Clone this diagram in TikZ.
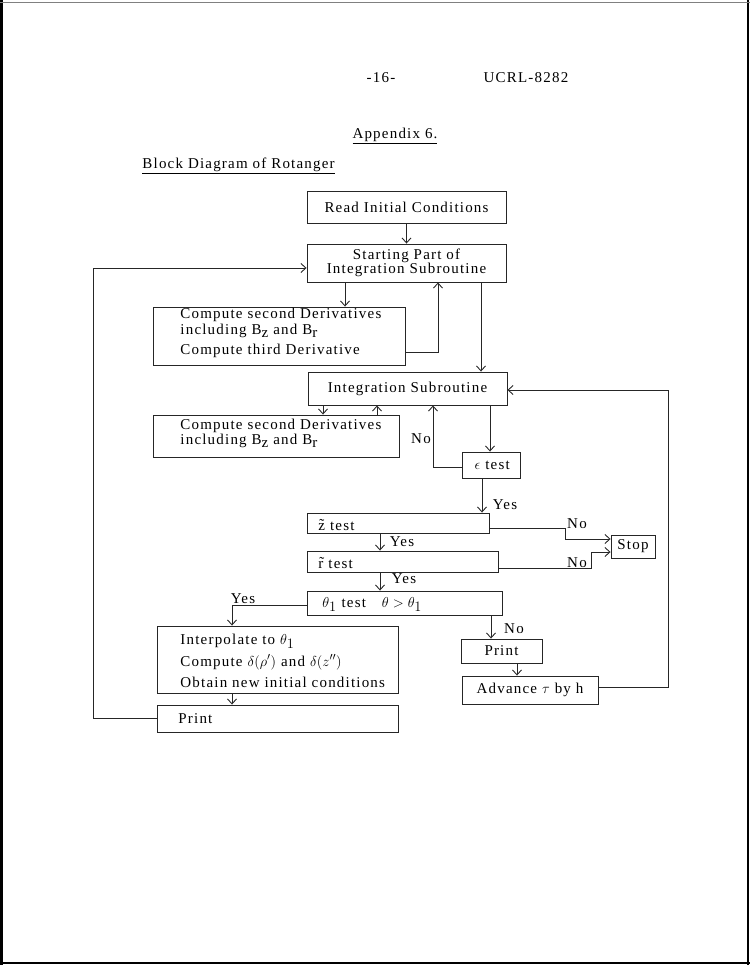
\documentclass[tikz,border=0pt]{standalone}
\usepackage{fontspec}
\setmainfont{Liberation Serif}[LetterSpace=8]
\usetikzlibrary{arrows.meta}

% lowered subscript in the running text font
\newcommand{\lowsub}[1]{\lower3.5pt\hbox{#1}}

\begin{document}
\begin{tikzpicture}[x=1pt,y=-1pt,
  line width=0.9pt,
  every node/.style={font=\fontsize{15}{14}\selectfont, text=black},
  box/.style={draw=black!85, rectangle, inner sep=0pt},
  flow/.style={draw=black!85, -{Straight Barb[length=5pt,width=9pt]}},
  lab/.style={inner sep=0pt, anchor=base west},
  tag/.style={inner sep=0pt},
]
\useasboundingbox (0,0) rectangle (750,965);

% page frame
\draw[line width=2.5pt] (1.25,0) -- (1.25,965);
\draw[line width=2.5pt] (748,0) -- (748,965);
\draw[line width=2.5pt] (0,963) -- (750,963);
\draw[line width=0.8pt, black!50] (0,2) -- (750,2);

% header
\node[tag] (pg) at (381,78) {-16-};
\node[tag] (rep) at (526,78) {UCRL-8282};
\node[tag] (app) at (395,136) {\underline{Appendix 6.}};
\node[lab] (title) at (142,169) {\underline{Block Diagram of Rotanger}};

% boxes
\node[box, minimum width=199pt, minimum height=32pt] (read) at (406.5,207) {Read Initial Conditions};
\node[box, minimum width=199pt, minimum height=38pt, align=center] (start) at (406.5,263) {Starting Part of\\Integration Subroutine};
\node[box, minimum width=252pt, minimum height=58pt] (comp1) at (279,336) {};
\node[box, minimum width=199pt, minimum height=33pt] (integ) at (407.5,388.5) {Integration Subroutine};
\node[box, minimum width=246pt, minimum height=42pt] (comp2) at (276,436) {};
\node[box, minimum width=58pt, minimum height=26pt] (eps) at (491,465) {\,$\epsilon$ test};
\node[box, minimum width=182pt, minimum height=20pt] (ztest) at (398,523) {};
\node[box, minimum width=191pt, minimum height=21pt] (rtest) at (402.5,561.5) {};
\node[box, minimum width=44pt, minimum height=23pt] (stop) at (633,546.5) {Stop};
\node[box, minimum width=195pt, minimum height=24pt] (theta) at (404.5,603) {};
\node[box, minimum width=81pt, minimum height=24pt] (print2) at (501.5,651) {Print};
\node[box, minimum width=136pt, minimum height=28pt] (adv) at (530,690) {Advance $\tau$ by h};
\node[box, minimum width=241pt, minimum height=67pt] (interp) at (277.5,659.5) {};
\node[box, minimum width=241pt, minimum height=27pt] (print1) at (277.5,718.5) {};

% box texts set flush left
\node[lab] (c1a) at (180,318) {Compute second Derivatives};
\node[lab] (c1b) at (180,334) {including B\lowsub{z} and B\lowsub{r}};
\node[lab] (c1c) at (180,354) {Compute third Derivative};
\node[lab] (c2a) at (180,429) {Compute second Derivatives};
\node[lab] (c2b) at (180,444) {including B\lowsub{z} and B\lowsub{r}};
\node[lab] (zt) at (318,530) {\~{z} test};
\node[lab] (rt) at (318,568) {\~{r} test};
\node[lab] (tt) at (322,607) {$\theta_{\textstyle 1}$ test\hspace{16pt}$\theta > \theta_{\textstyle 1}$};
\node[lab] (ia) at (180,644) {Interpolate to $\theta_{\textstyle 1}$};
\node[lab] (ib) at (180,666) {Compute $\delta(\rho')$ and $\delta(z'')$};
\node[lab] (ic) at (180,687) {Obtain new initial conditions};
\node[lab] (pt) at (178,723) {Print};

% connectors
\draw[flow] (read.south) -- (start.north);
\draw[flow] (print1.west) -| (93,268) -- (start.west |- 0,268);
\draw[flow] (start.south -| 345,0) -- (comp1.north -| 345,0);
\draw[flow] (comp1.east |- 0,352) -| (start.south -| 438,0);
\draw[flow] (start.south -| 481,0) -- (integ.north -| 481,0);
\draw[flow] (integ.south -| 323,0) -- (comp2.north -| 323,0);
\draw[flow] (comp2.north -| 377,0) -- (integ.south -| 377,0);
\draw[flow] (integ.south -| 490,0) -- (eps.north -| 490,0);
\draw[flow] (eps.west |- 0,467) -| (integ.south -| 433,0);
\draw[flow] (eps.south -| 482,0) -- (ztest.north -| 482,0);
\draw[flow] (ztest.east |- 0,528) -- (565,528) |- (stop.west |- 0,539);
\draw[flow] (ztest.south -| 380,0) -- (rtest.north -| 380,0);
\draw[flow] (rtest.east |- 0,568) -- (591,568) |- (stop.west |- 0,552);
\draw[flow] (rtest.south -| 380,0) -- (theta.north -| 380,0);
\draw[flow] (theta.west |- 0,605) -| (interp.north -| 232,0);
\draw[flow] (theta.south -| 491,0) -- (print2.north -| 491,0);
\draw[flow] (print2.south -| 517,0) -- (adv.north -| 517,0);
\draw[flow] (adv.east |- 0,687) -- (668,687) |- (integ.east |- 0,390);
\draw[flow] (interp.south -| 232,0) -- (print1.north -| 232,0);

% branch labels
\node[tag] (no1) at (421,439) {No};
\node[tag] (yes1) at (505,505) {Yes};
\node[tag] (no2) at (577,524) {No};
\node[tag] (yes2) at (402,542) {Yes};
\node[tag] (no3) at (577,563) {No};
\node[tag] (yes3) at (404,579) {Yes};
\node[tag] (yes4) at (243,599) {Yes};
\node[tag] (no4) at (514,629) {No};
\end{tikzpicture}
\end{document}
